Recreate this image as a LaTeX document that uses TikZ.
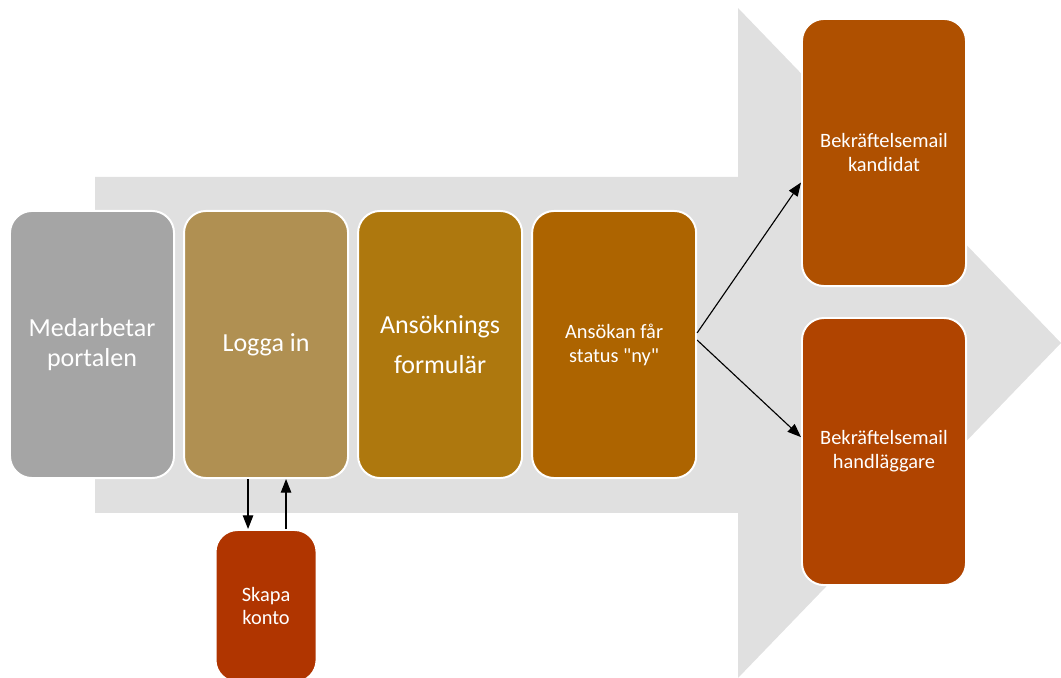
\documentclass[tikz,border=0pt]{standalone}
\usepackage{fontspec}
\setmainfont{Carlito}
\newfontfamily\rak{Carlito}
\usetikzlibrary{positioning,arrows.meta}
\definecolor{bakgrund}{RGB}{224,224,224}
\definecolor{gra}{RGB}{165,165,165}
\definecolor{guld}{RGB}{176,144,82}
\definecolor{ockra}{RGB}{174,120,14}
\definecolor{brun}{RGB}{173,100,0}
\definecolor{rost}{RGB}{175,80,0}
\definecolor{rost2}{RGB}{176,68,0}
\definecolor{tegel}{RGB}{176,53,0}
\begin{document}
\begin{tikzpicture}[x=0.025cm,y=0.025cm]
	\tikzstyle{steg} = [draw=white, line width=1.4pt, rounded corners=0.55cm, text=white, align=center, inner sep=0pt, minimum width=4.1cm, minimum height=6.675cm, font=\fontsize{18.5}{21}\selectfont]
	\tikzstyle{liten} = [font=\fontsize{14.5}{17}\selectfont]
	\tikzstyle{pil} = [-{Triangle[length=3.4mm,width=2.6mm]}, line width=0.8pt]
	\clip (0,0) rectangle (1061,678);

	% stora pilen i bakgrunden
	\fill[bakgrund] (95,501) -- (738,501) -- (738,670) -- (1061,335) -- (738,0) -- (738,165) -- (95,165) -- cycle;

	\node[steg, fill=gra] (med) at (92,333.5) {Medarbetar\\portalen};
	\node[steg, fill=guld] (logga) [right of=med, node distance=4.35cm] {Logga in};
	\node[steg, fill=ockra, font=\fontsize{18.5}{28}\selectfont] (form) [right of=logga, node distance=4.35cm] {Ansöknings\\formulär};
	\node[steg, fill=brun, font=\rak\fontsize{14.5}{17}\selectfont] (status) [right of=form, node distance=4.35cm] {Ansökan får\\status "ny"};

	\node[steg, liten, fill=rost] (kand) at (884,525.5) {Bekräftelsemail\\kandidat};
	\node[steg, liten, fill=rost2] (handl) [below=0.75cm of kand] {Bekräftelsemail\\handläggare};

	\node[steg, liten, fill=tegel, minimum width=2.525cm, minimum height=3.8cm, font=\fontsize{14.5}{16}\selectfont] (skapa) [below=1.25cm of logga] {Skapa\\konto};

	\draw[pil] ([yshift=0.29cm]status.east) -- ([yshift=-0.75cm]kand.west);
	\draw[pil] ([yshift=0.11cm]status.east) -- ([yshift=0.36cm]handl.west);
	\draw[pil] ([xshift=-0.45cm]logga.south) -- ([xshift=-0.45cm]skapa.north);
	\draw[pil] ([xshift=0.5cm]skapa.north) -- ([xshift=0.5cm]logga.south);
\end{tikzpicture}
\end{document}
